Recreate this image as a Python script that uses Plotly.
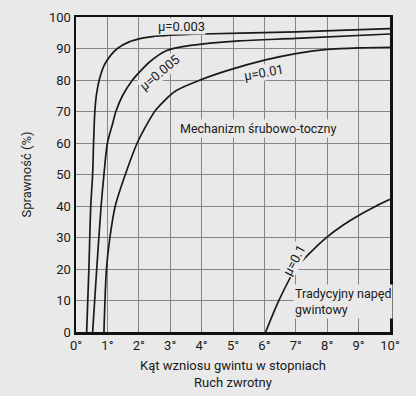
import plotly.graph_objects as go

# Data
mu003_x = [0.34, 0.41, 0.47, 0.53, 0.56, 0.6, 0.65, 0.74, 0.9, 1.11, 1.32, 1.69, 2.11, 2.43, 4, 7, 10]
mu003_y = [0, 20, 40, 50, 60, 70, 75.3, 80, 84.7, 87.9, 90, 92.1, 93.3, 93.8, 94.6, 95.3, 96.3]

mu005_x = [0.53, 0.66, 0.8, 0.89, 1.0, 1.17, 1.27, 1.48, 1.8, 2.03, 2.35, 2.87, 3.4, 4, 5.2, 7, 10]
mu005_y = [0, 20, 40, 50, 60, 66.3, 70, 75, 80, 82.6, 85.8, 89.3, 90.6, 91.4, 92.4, 93.2, 94.6]

mu01_x = [0.89, 0.97, 1.08, 1.25, 1.57, 1.95, 2.32, 2.54, 3.17, 4.01, 4.89, 6, 7, 8, 9, 10]
mu01_y = [0, 20, 30, 40, 50, 60, 67, 70.5, 76.5, 80.2, 83.2, 86.3, 88.4, 89.7, 90.2, 90.4]

mu1_x = [6.04, 6.47, 7, 7.5, 8, 8.5, 9, 9.5, 10]
mu1_y = [0, 10.2, 20.2, 25.6, 30.2, 33.9, 37, 39.7, 42.1]

x_ticks = list(range(0, 11))
x_ticklabels = [f"{v}°" for v in x_ticks]
y_ticks = list(range(0, 101, 10))

FONT = "Roboto"
BG = "#e9e9e9"
INK = "#1a1a1a"

fig = go.Figure()
for xs, ys in [(mu003_x, mu003_y), (mu005_x, mu005_y), (mu01_x, mu01_y), (mu1_x, mu1_y)]:
    fig.add_trace(go.Scatter(x=xs, y=ys, mode="lines",
                             line=dict(color=INK, width=1.7, shape="spline", smoothing=0.8),
                             showlegend=False, hoverinfo="skip", cliponaxis=True))

annots = [
    dict(x=3.37, y=97.1, text="μ=0.003", textangle=0),
    dict(x=2.67, y=82.4, text="μ=0.005", textangle=-40),
    dict(x=6.0, y=82.3, text="μ=0.01", textangle=-10),
    dict(x=6.97, y=22.9, text="μ=0.1", textangle=-62),
]
for a in annots:
    fig.add_annotation(x=a["x"], y=a["y"], text=a["text"], textangle=a["textangle"],
                       showarrow=False, font=dict(family=FONT, size=13, color=INK),
                       bgcolor=BG, borderpad=0)

fig.add_annotation(x=5.8, y=64.7, text="Mechanizm śrubowo-toczny", showarrow=False,
                   font=dict(family=FONT, size=12.5, color=INK), bgcolor=BG, borderpad=1)
fig.add_annotation(x=6.9, y=9.6, text="Tradycyjny napęd<br>gwintowy", showarrow=False,
                   xanchor="left", align="left",
                   font=dict(family=FONT, size=12.5, color=INK), bgcolor=BG, borderpad=1)

fig.update_layout(
    width=416, height=396,
    margin=dict(l=76, r=26, t=17, b=64),
    paper_bgcolor=BG, plot_bgcolor=BG,
    font=dict(family=FONT, size=13, color=INK),
)
fig.update_xaxes(range=[0, 10], tickvals=x_ticks, ticktext=x_ticklabels,
                 showgrid=True, gridcolor="#858585", gridwidth=1,
                 showline=True, mirror=True, linecolor="#111", linewidth=2.5,
                 zeroline=False, ticks="", ticklen=0, automargin=False,
                 title=dict(text="Kąt wzniosu gwintu w stopniach<br>Ruch zwrotny",
                            font=dict(size=13), standoff=9))
fig.update_yaxes(range=[0, 100], tickvals=y_ticks,
                 showgrid=True, gridcolor="#858585", gridwidth=1,
                 showline=True, mirror=True, linecolor="#111", linewidth=2.5,
                 zeroline=False, ticks="", ticklen=0, automargin=False,
                 title=dict(text="Sprawność (%)", font=dict(size=13), standoff=15))

fig.write_html("out.html",
               config={"displayModeBar": False, "staticPlot": True},
               post_script="document.body.style.margin='0';document.body.style.padding='0';"
                           "document.body.style.overflow='hidden';"
                           "document.body.style.background='#e9e9e9';")
